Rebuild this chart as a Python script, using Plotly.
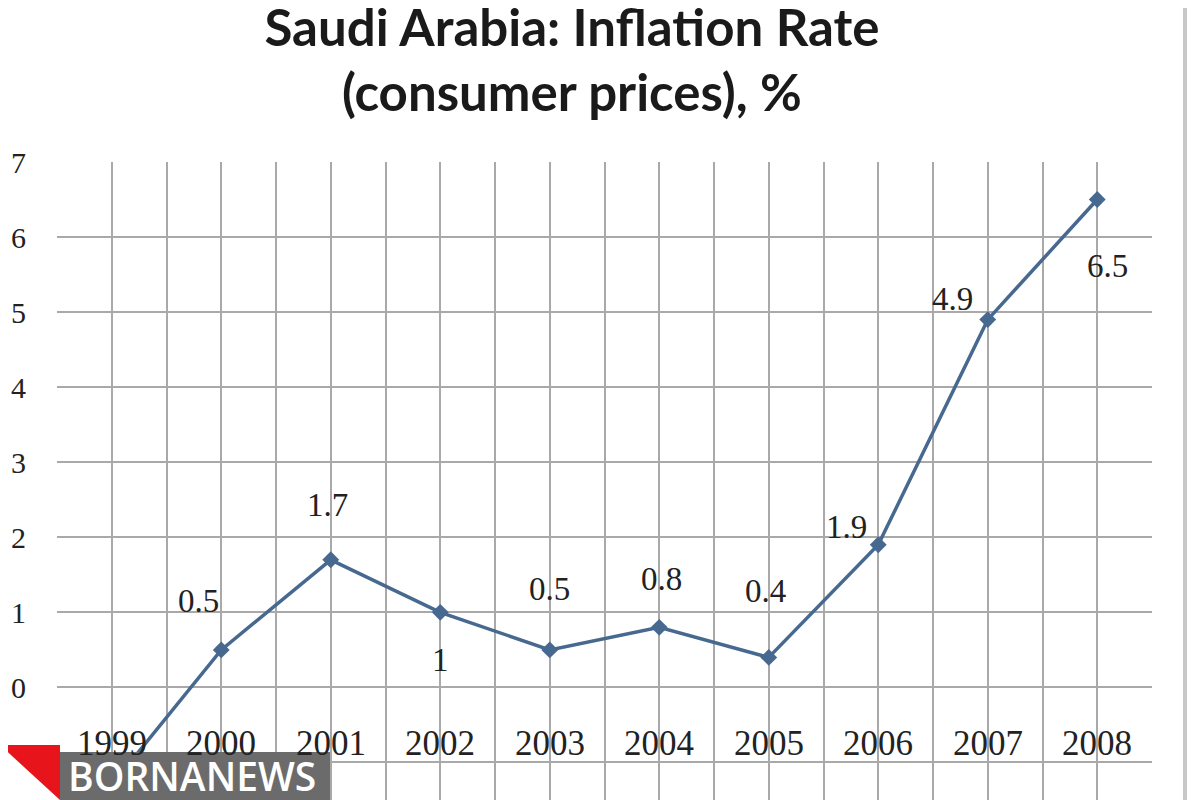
import plotly.graph_objects as go

# data
years = [1999, 2000, 2001, 2002, 2003, 2004, 2005, 2006, 2007, 2008]
inflation = [-1.3, 0.5, 1.7, 1.0, 0.5, 0.8, 0.4, 1.9, 4.9, 6.5]
point_labels = ['-1.3', '0.5', '1.7', '1', '0.5', '0.8', '0.4', '1.9', '4.9', '6.5']
y_ticks = [-1, 0, 1, 2, 3, 4, 5, 6, 7]
y_tick_text = ['', '0', '1', '2', '3', '4', '5', '6', '7']
title_lines = ['Saudi Arabia: Inflation Rate', '(consumer prices), %']

# label offsets in px (x, y), roughly where excel put them
label_shift = [(0, -50), (-23, 49), (-3, 55), (0, -48), (0, 61),
               (2, 48), (-3, 66), (-32, 18), (-35, 21), (10, -66)]

line_color = '#48698f'
grid_color = '#a9a9a9'

# page body has an 8px margin, so figure px = screen px - 8
OFF = 8
L, R, T, B = 57 - OFF, 1200 - (1152 - OFF), 162 - OFF, OFF
W = 1200 - L - R
H = 800 - T - B


def px_x(sx):
    return (sx - OFF - L) / W


def px_y(sy):
    return (800 - B - (sy - OFF)) / H


fig = go.Figure()

fig.add_trace(go.Scatter(
    x=years,
    y=inflation,
    mode='lines+markers',
    line=dict(color=line_color, width=3.5),
    marker=dict(symbol='diamond', size=13, color=line_color),
    cliponaxis=False,
    showlegend=False
))

annotations = []
for yr, val, txt, (dx, dy) in zip(years, inflation, point_labels, label_shift):
    annotations.append(dict(
        x=yr, y=val, xref='x', yref='y',
        text=txt, showarrow=False,
        xshift=dx, yshift=dy,
        font=dict(family='Liberation Serif', size=33, color='#222222')
    ))

# year labels sit inside the plot, between 0 and -1
for yr in years:
    annotations.append(dict(
        x=yr, y=-0.75, xref='x', yref='y',
        text=str(yr), showarrow=False,
        font=dict(family='Liberation Serif', size=35, color='#222222')
    ))

# second title line
annotations.append(dict(
    x=px_x(572), y=px_y(92), xref='paper', yref='paper',
    xanchor='center', yanchor='middle',
    text=title_lines[1], showarrow=False,
    font=dict(family='Lato', size=51, color='#1a1a1a', weight='bold')
))

# watermark
annotations.append(dict(
    x=px_x(66), y=px_y(775), xref='paper', yref='paper',
    xanchor='left', yanchor='middle',
    text='BORNANEWS', showarrow=False,
    font=dict(family='Open Sans', size=39, color='white', weight=600)
))

fig.update_layout(
    width=1200,
    height=800,
    paper_bgcolor='white',
    plot_bgcolor='white',
    margin=dict(l=L, r=R, t=T, b=B, autoexpand=False),
    title=dict(
        text=title_lines[0],
        x=(572 - OFF) / 1200,
        xanchor='center',
        xref='container',
        y=1 - (28 - OFF) / 800,
        yanchor='middle',
        yref='container',
        font=dict(family='Lato', size=51, color='#1a1a1a', weight='bold')
    ),
    xaxis=dict(
        range=[1998.5, 2008.5],
        tickvals=years,
        showticklabels=False,
        showgrid=True,
        gridcolor=grid_color,
        gridwidth=2,
        zeroline=False,
        automargin=False,
        minor=dict(dtick=1, tick0=1998.5, showgrid=True,
                   gridcolor=grid_color, gridwidth=2)
    ),
    yaxis=dict(
        range=[-1.5, 7],
        tickvals=y_ticks,
        ticktext=y_tick_text,
        showgrid=True,
        gridcolor=grid_color,
        gridwidth=2,
        zeroline=False,
        automargin=False,
        ticklabelstandoff=30,
        tickfont=dict(family='Liberation Serif', size=30, color='#222222')
    ),
    annotations=annotations,
    shapes=[
        # chart frame edge on the right
        dict(type='line', xref='paper', yref='paper',
             x0=px_x(1185), x1=px_x(1185), y0=px_y(800), y1=px_y(0),
             line=dict(color='#c8c8c8', width=4)),
        # watermark box
        dict(type='rect', xref='paper', yref='paper',
             x0=px_x(60), x1=px_x(330),
             y0=px_y(800), y1=px_y(752),
             fillcolor='#6b6b6b', line=dict(width=0), layer='above'),
        dict(type='path', xref='paper', yref='paper',
             path='M {0},{1} L {2},{1} L {2},{3} Z'.format(
                 px_x(0), px_y(745), px_x(60), px_y(800)),
             fillcolor='#e8141c', line=dict(width=0), layer='above'),
    ]
)

fig.write_html("out.html")
